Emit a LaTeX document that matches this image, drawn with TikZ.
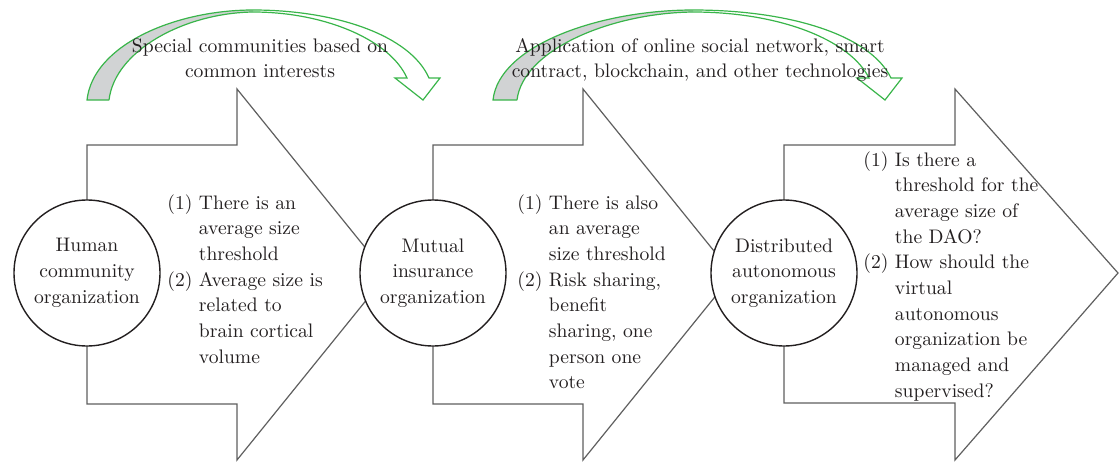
\documentclass[tikz,border=0pt]{standalone}
\definecolor{arrgreen}{RGB}{57,181,74}
\definecolor{bandgray}{RGB}{209,211,212}
\definecolor{bodygray}{RGB}{95,95,95}
\definecolor{inkcol}{RGB}{35,31,32}
\tikzset{
  txt/.style={font=\fontsize{9.8}{12.85}\selectfont, text=inkcol},
  bigarrow/.style={draw=bodygray, line width=0.6pt, fill=white},
  orgcircle/.style={txt, circle, draw=inkcol, line width=0.7pt, fill=white,
    minimum size=73pt, inner sep=0pt, align=center},
  band/.style={draw=arrgreen, line width=0.6pt},
  bandfill/.style={fill=bandgray},
  listnode/.style={txt, anchor=base west, inner sep=0pt},
  toptext/.style={txt, anchor=base, inner sep=0pt}
}
\begin{document}
\begin{tikzpicture}[x=0.5pt,y=-0.5pt]
\useasboundingbox (0,0) rectangle (1119,461);
% big block arrows
\draw[bigarrow] (87,145) -- (237,145) -- (237,89) -- (387,274.5) -- (237,460) -- (237,404) -- (87,404) -- cycle;
\draw[bigarrow] (433,145) -- (583,145) -- (583,89) -- (733,274.5) -- (583,460) -- (583,404) -- (433,404) -- cycle;
\draw[bigarrow] (784,145) -- (955,145) -- (955,89) -- (1118,273) -- (955,460) -- (955,403) -- (784,403) -- cycle;
% circles
\node[orgcircle] (c1) at (87,273) {Human\\community\\organization};
\node[orgcircle] (c2) at (433,273) {Mutual\\insurance\\organization};
\node[orgcircle] (c3) at (784,273) {Distributed\\autonomous\\organization};
% lists
\node[listnode] (l1) at (167,209) {\begin{tabular}[t]{@{}r@{\ }l@{}}(1)&There is an\\&average size\\&threshold\\(2)&Average size is\\&related to\\&brain cortical\\&volume\end{tabular}};
\node[listnode] (l2) at (517,209) {\begin{tabular}[t]{@{}r@{\ }l@{}}(1)&There is also\\&an average\\&size threshold\\(2)&Risk sharing,\\&benefit\\&sharing, one\\&person one\\&vote\end{tabular}};
\node[listnode] (l3) at (863,166) {\begin{tabular}[t]{@{}r@{\ }l@{}}(1)&Is there a\\&threshold for the\\&average size of\\&the DAO?\\(2)&How should the\\&virtual\\&autonomous\\&organization be\\&managed and\\&supervised?\end{tabular}};
% curved arrow 1
\fill[bandfill] (87,100) .. controls (93,45) and (175,10) .. (253,10)
  -- (253,12) .. controls (185,13) and (115,50) .. (109,100) -- cycle;
\draw[band] (109,100) -- (87,100) .. controls (93,45) and (175,10) .. (253,10)
  .. controls (335,10) and (410,35) .. (429,78) -- (440,78) -- (423,100) -- (395,78) -- (407,78)
  .. controls (390,40) and (325,12) .. (253,12) .. controls (185,13) and (115,50) .. (109,100);
% curved arrow 2
\fill[bandfill] (493,100) .. controls (499,45) and (600,10) .. (693,10)
  -- (693,12) .. controls (610,13) and (523,50) .. (517,100) -- cycle;
\draw[band] (517,100) -- (493,100) .. controls (499,45) and (600,10) .. (693,10)
  .. controls (790,10) and (870,35) .. (891,78) -- (902,78) -- (885,100) -- (857,78) -- (869,78)
  .. controls (850,40) and (780,12) .. (693,12) .. controls (610,13) and (523,50) .. (517,100);
% top texts
\node[toptext] (t1) at (260,52) {\begin{tabular}[t]{@{}c@{}}Special communities based on\\common interests\end{tabular}};
\node[toptext] (t2) at (700,52) {\begin{tabular}[t]{@{}c@{}}Application of online social network, smart\\contract, blockchain, and other technologies\end{tabular}};
\end{tikzpicture}
\end{document}
